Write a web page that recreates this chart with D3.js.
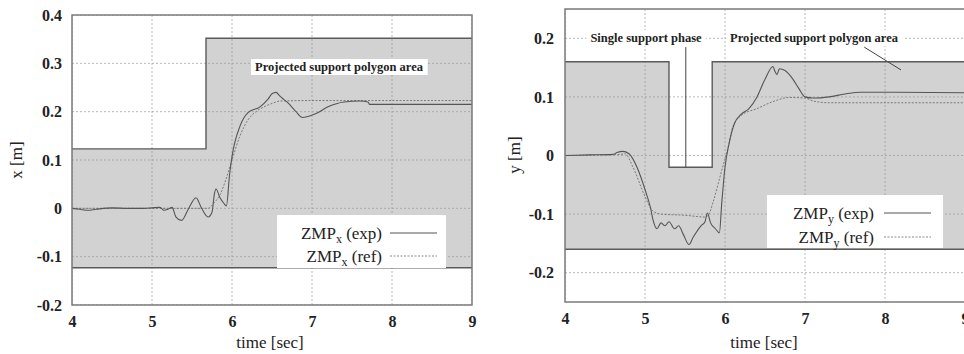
<!DOCTYPE html>
<html>
<head>
<meta charset="utf-8">
<script src="https://cdn.jsdelivr.net/npm/d3@7"></script>
<style>
  body { margin: 0; background: #fff; }
  text { font-family: "Liberation Serif", "DejaVu Serif", serif; fill: #222; }
</style>
</head>
<body>
<div id="chart"></div>
<script>
const width = 964;
const height = 354;

// x (sagittal) ZMP, left panel
const timeXExp = [4.0, 4.1, 4.2, 4.3, 4.5, 4.7, 4.9, 5.0, 5.1, 5.15, 5.2, 5.25, 5.3, 5.37, 5.45, 5.55, 5.62, 5.7, 5.75, 5.78, 5.8, 5.85, 5.9, 5.93, 5.97, 6.0, 6.1, 6.2, 6.35, 6.45, 6.5, 6.55, 6.6, 6.65, 6.7, 6.8, 6.88, 6.95, 7.05, 7.2, 7.4, 7.6, 7.7, 7.72, 8.0, 8.5, 9.0];
const zmpxExp = [0.0, -0.002, -0.004, -0.002, 0.001, 0.0, 0.0, 0.001, 0.002, -0.004, -0.002, 0.002, -0.018, -0.025, -0.003, 0.022, 0.0, -0.018, -0.008, 0.03, 0.04, 0.022, 0.01, 0.005, 0.07, 0.107, 0.17, 0.198, 0.21, 0.226, 0.237, 0.24, 0.232, 0.225, 0.218, 0.2, 0.188, 0.19, 0.196, 0.21, 0.22, 0.222, 0.22, 0.215, 0.215, 0.215, 0.215];
const timeXRef = [4.0, 5.0, 5.7, 5.78, 5.85, 5.92, 6.0, 6.1, 6.2, 6.3, 6.4, 6.5, 6.6, 7.0, 8.0, 9.0];
const zmpxRef = [0.0, 0.0, 0.0, 0.012, 0.028, 0.058, 0.1, 0.15, 0.183, 0.2, 0.21, 0.217, 0.222, 0.223, 0.223, 0.223];
const polyXTime = [4.0, 5.675, 5.675, 9.0];
const polyXUpper = [0.123, 0.123, 0.352, 0.352];
const polyXLower = [-0.123, -0.123, -0.123, -0.123];

// y (lateral) ZMP, right panel
const timeYExp = [4.0, 4.3, 4.6, 4.65, 4.72, 4.8, 4.9, 5.0, 5.07, 5.1, 5.15, 5.2, 5.25, 5.3, 5.37, 5.42, 5.48, 5.55, 5.6, 5.7, 5.75, 5.78, 5.82, 5.88, 5.93, 5.96, 6.0, 6.05, 6.12, 6.2, 6.3, 6.4, 6.5, 6.6, 6.62, 6.65, 6.68, 6.75, 6.85, 6.92, 7.0, 7.1, 7.3, 7.5, 7.7, 8.0, 9.0];
const zmpyExp = [0.0, 0.001, 0.002, 0.005, 0.007, 0.003, -0.02, -0.058, -0.09, -0.11, -0.125, -0.115, -0.12, -0.113, -0.125, -0.12, -0.135, -0.152, -0.14, -0.12, -0.113, -0.098, -0.115, -0.125, -0.132, -0.08, -0.02, 0.02, 0.055, 0.07, 0.08, 0.1, 0.13, 0.152, 0.145, 0.138, 0.148, 0.145, 0.13, 0.115, 0.1, 0.098, 0.1, 0.105, 0.108, 0.108, 0.107];
const timeYRef = [4.0, 4.7, 4.75, 4.85, 5.0, 5.1, 5.2, 5.5, 5.75, 5.8, 5.85, 5.95, 6.05, 6.1, 6.2, 6.4, 6.6, 6.8, 7.0, 7.1, 7.3, 9.0];
const zmpyRef = [0.0, 0.002, 0.003, -0.02, -0.07, -0.095, -0.1, -0.102, -0.105, -0.1, -0.08, -0.03, 0.02, 0.05, 0.068, 0.08, 0.092, 0.099, 0.098, 0.093, 0.09, 0.09];
const polyYTime = [4.0, 5.3, 5.3, 5.84, 5.84, 9.0];
const polyYUpper = [0.16, 0.16, -0.02, -0.02, 0.16, 0.16];
const polyYLower = [-0.16, -0.16, -0.16, -0.16, -0.16, -0.16];

const xTicks = [4, 5, 6, 7, 8, 9];
const yTicksLeft = [-0.2, -0.1, 0, 0.1, 0.2, 0.3, 0.4];
const yTicksRight = [-0.2, -0.1, 0, 0.1, 0.2];

const svg = d3.select('#chart').append('svg').attr('width', width).attr('height', height);

const fmt = (d) => (d === 0 ? '0' : d.toFixed(1));
const zip = (a, b) => a.map((v, i) => [v, b[i]]);

function panel(opts) {
  const x = d3.scaleLinear().domain([4, 9]).range([opts.left, opts.right]);
  const y = d3.scaleLinear().domain(opts.yDomain).range([opts.bottom, opts.top]);
  const g = svg.append('g');

  const clipId = 'clip' + opts.id;
  svg.append('clipPath').attr('id', clipId)
    .append('rect')
    .attr('x', opts.left).attr('y', opts.top)
    .attr('width', opts.right - opts.left).attr('height', opts.bottom - opts.top);

  const inner = g.append('g').attr('clip-path', 'url(#' + clipId + ')');

  // support polygon
  const area = d3.area().x((d) => x(d[0])).y0((d) => y(d[2])).y1((d) => y(d[1]));
  const polyData = opts.polyTime.map((t, i) => [t, opts.polyUpper[i], opts.polyLower[i]]);
  inner.append('path').datum(polyData).attr('d', area).attr('fill', '#d2d2d2');

  // grid
  inner.append('g').selectAll('line').data(xTicks).enter().append('line')
    .attr('x1', (d) => x(d)).attr('x2', (d) => x(d))
    .attr('y1', opts.top).attr('y2', opts.bottom)
    .attr('stroke', '#9a9a9a').attr('stroke-width', 0.7).attr('stroke-dasharray', '2,2');
  inner.append('g').selectAll('line').data(opts.yTicks).enter().append('line')
    .attr('x1', opts.left).attr('x2', opts.right)
    .attr('y1', (d) => y(d)).attr('y2', (d) => y(d))
    .attr('stroke', '#9a9a9a').attr('stroke-width', 0.7).attr('stroke-dasharray', '2,2');

  // polygon outline
  const up = d3.line().x((d) => x(d[0])).y((d) => y(d[1]));
  inner.append('path').datum(zip(opts.polyTime, opts.polyUpper)).attr('d', up)
    .attr('fill', 'none').attr('stroke', '#5a5a5a').attr('stroke-width', 1.4);
  inner.append('path').datum(zip(opts.polyTime, opts.polyLower)).attr('d', up)
    .attr('fill', 'none').attr('stroke', '#5a5a5a').attr('stroke-width', 1.4);

  // annotations (white boxes behind text)
  opts.notes.forEach((n) => {
    const t = g.append('text').attr('x', n.x).attr('y', n.y)
      .attr('text-anchor', 'middle').attr('font-size', 12.5).attr('font-weight', 'bold')
      .attr('fill', '#333').text(n.text);
    const bb = t.node().getBBox();
    g.insert('rect', () => t.node())
      .attr('x', bb.x - 4).attr('y', bb.y - 1).attr('width', bb.width + 8).attr('height', bb.height + 2)
      .attr('fill', '#fff');
  });
  (opts.pointers || []).forEach((p) => {
    g.append('line').attr('x1', x(p[0])).attr('y1', y(p[1])).attr('x2', x(p[2])).attr('y2', y(p[3]))
      .attr('stroke', '#444').attr('stroke-width', 1);
  });

  // series
  const line = d3.line().x((d) => x(d[0])).y((d) => y(d[1])).curve(d3.curveMonotoneX);
  inner.append('path').datum(zip(opts.refT, opts.refV)).attr('d', line)
    .attr('fill', 'none').attr('stroke', '#7a7a7a').attr('stroke-width', 1).attr('stroke-dasharray', '2,1.5');
  inner.append('path').datum(zip(opts.expT, opts.expV)).attr('d', line)
    .attr('fill', 'none').attr('stroke', '#555').attr('stroke-width', 1.1);

  // legend
  const lg = g.append('g');
  lg.append('rect').attr('x', opts.legend.x0).attr('y', opts.legend.y0)
    .attr('width', opts.legend.x1 - opts.legend.x0).attr('height', opts.legend.y1 - opts.legend.y0)
    .attr('fill', '#fff');
  ['exp', 'ref'].forEach((k, i) => {
    const yy = opts.legend.rowY[i];
    const t = lg.append('text').attr('x', opts.legend.textX).attr('y', yy + 6)
      .attr('text-anchor', 'end').attr('font-size', 17).attr('fill', '#222');
    t.append('tspan').text('ZMP');
    t.append('tspan').attr('font-size', 12).attr('dy', 4).text(opts.sub);
    t.append('tspan').attr('dy', -4).text(' (' + k + ')');
    lg.append('line').attr('x1', opts.legend.lineX0).attr('x2', opts.legend.lineX1)
      .attr('y1', yy).attr('y2', yy)
      .attr('stroke', k === 'exp' ? '#555' : '#888').attr('stroke-width', 1)
      .attr('stroke-dasharray', k === 'exp' ? null : '2,1.5');
  });

  // frame
  g.append('rect').attr('x', opts.left).attr('y', opts.top)
    .attr('width', opts.right - opts.left).attr('height', opts.bottom - opts.top)
    .attr('fill', 'none').attr('stroke', '#7a7a7a').attr('stroke-width', 1.5);

  // tick labels
  g.append('g').attr('transform', 'translate(0,' + opts.bottom + ')')
    .call(d3.axisBottom(x).tickValues(xTicks).tickSize(0).tickPadding(opts.xPad).tickFormat(d3.format('d')))
    .call((a) => a.select('.domain').remove())
    .selectAll('text').attr('font-size', 16).attr('font-weight', 'bold').attr('fill', '#333')
    .style('font-family', '"Liberation Serif", serif');
  g.append('g').attr('transform', 'translate(' + opts.left + ',0)')
    .call(d3.axisLeft(y).tickValues(opts.yTicks).tickSize(0).tickPadding(opts.yPad).tickFormat(fmt))
    .call((a) => a.select('.domain').remove())
    .selectAll('text').attr('font-size', 16).attr('font-weight', 'bold').attr('fill', '#333')
    .style('font-family', '"Liberation Serif", serif');

  // axis titles
  g.append('text').attr('x', opts.xTitle[0]).attr('y', opts.xTitle[1])
    .attr('text-anchor', 'middle').attr('font-size', 17).attr('fill', '#222').text('time [sec]');
  g.append('text').attr('transform', 'translate(' + opts.yTitle[0] + ',' + opts.yTitle[1] + ') rotate(-90)')
    .attr('text-anchor', 'middle').attr('font-size', 17).attr('fill', '#222').text(opts.yLabel);
}

panel({
  id: 'L', left: 72, right: 472, top: 15, bottom: 305, yDomain: [-0.2, 0.4],
  yTicks: yTicksLeft, polyTime: polyXTime, polyUpper: polyXUpper, polyLower: polyXLower,
  expT: timeXExp, expV: zmpxExp, refT: timeXRef, refV: zmpxRef, sub: 'x',
  notes: [{ x: 339, y: 71, text: 'Projected support polygon area' }],
  legend: { x0: 277, x1: 446, y0: 215, y1: 268, rowY: [233, 256], textX: 382, lineX0: 390, lineX1: 437 },
  xPad: 11, yPad: 10, xTitle: [270, 348], yTitle: [22, 160], yLabel: 'x [m]'
});

panel({
  id: 'R', left: 565, right: 965, top: 9, bottom: 302, yDomain: [-0.25, 0.25],
  yTicks: yTicksRight, polyTime: polyYTime, polyUpper: polyYUpper, polyLower: polyYLower,
  expT: timeYExp, expV: zmpyExp, refT: timeYRef, refV: zmpyRef, sub: 'y',
  notes: [{ x: 646, y: 42, text: 'Single support phase' }, { x: 814, y: 42, text: 'Projected support polygon area' }],
  pointers: [[5.51, -0.02, 5.51, 0.185], [7.74, 0.185, 8.2, 0.146]],
  legend: { x0: 767, x1: 943, y0: 195, y1: 248, rowY: [213, 237], textX: 874, lineX0: 884, lineX1: 931 },
  xPad: 11, yPad: 11, xTitle: [764, 348], yTitle: [520, 155], yLabel: 'y [m]'
});
</script>
</body>
</html>
